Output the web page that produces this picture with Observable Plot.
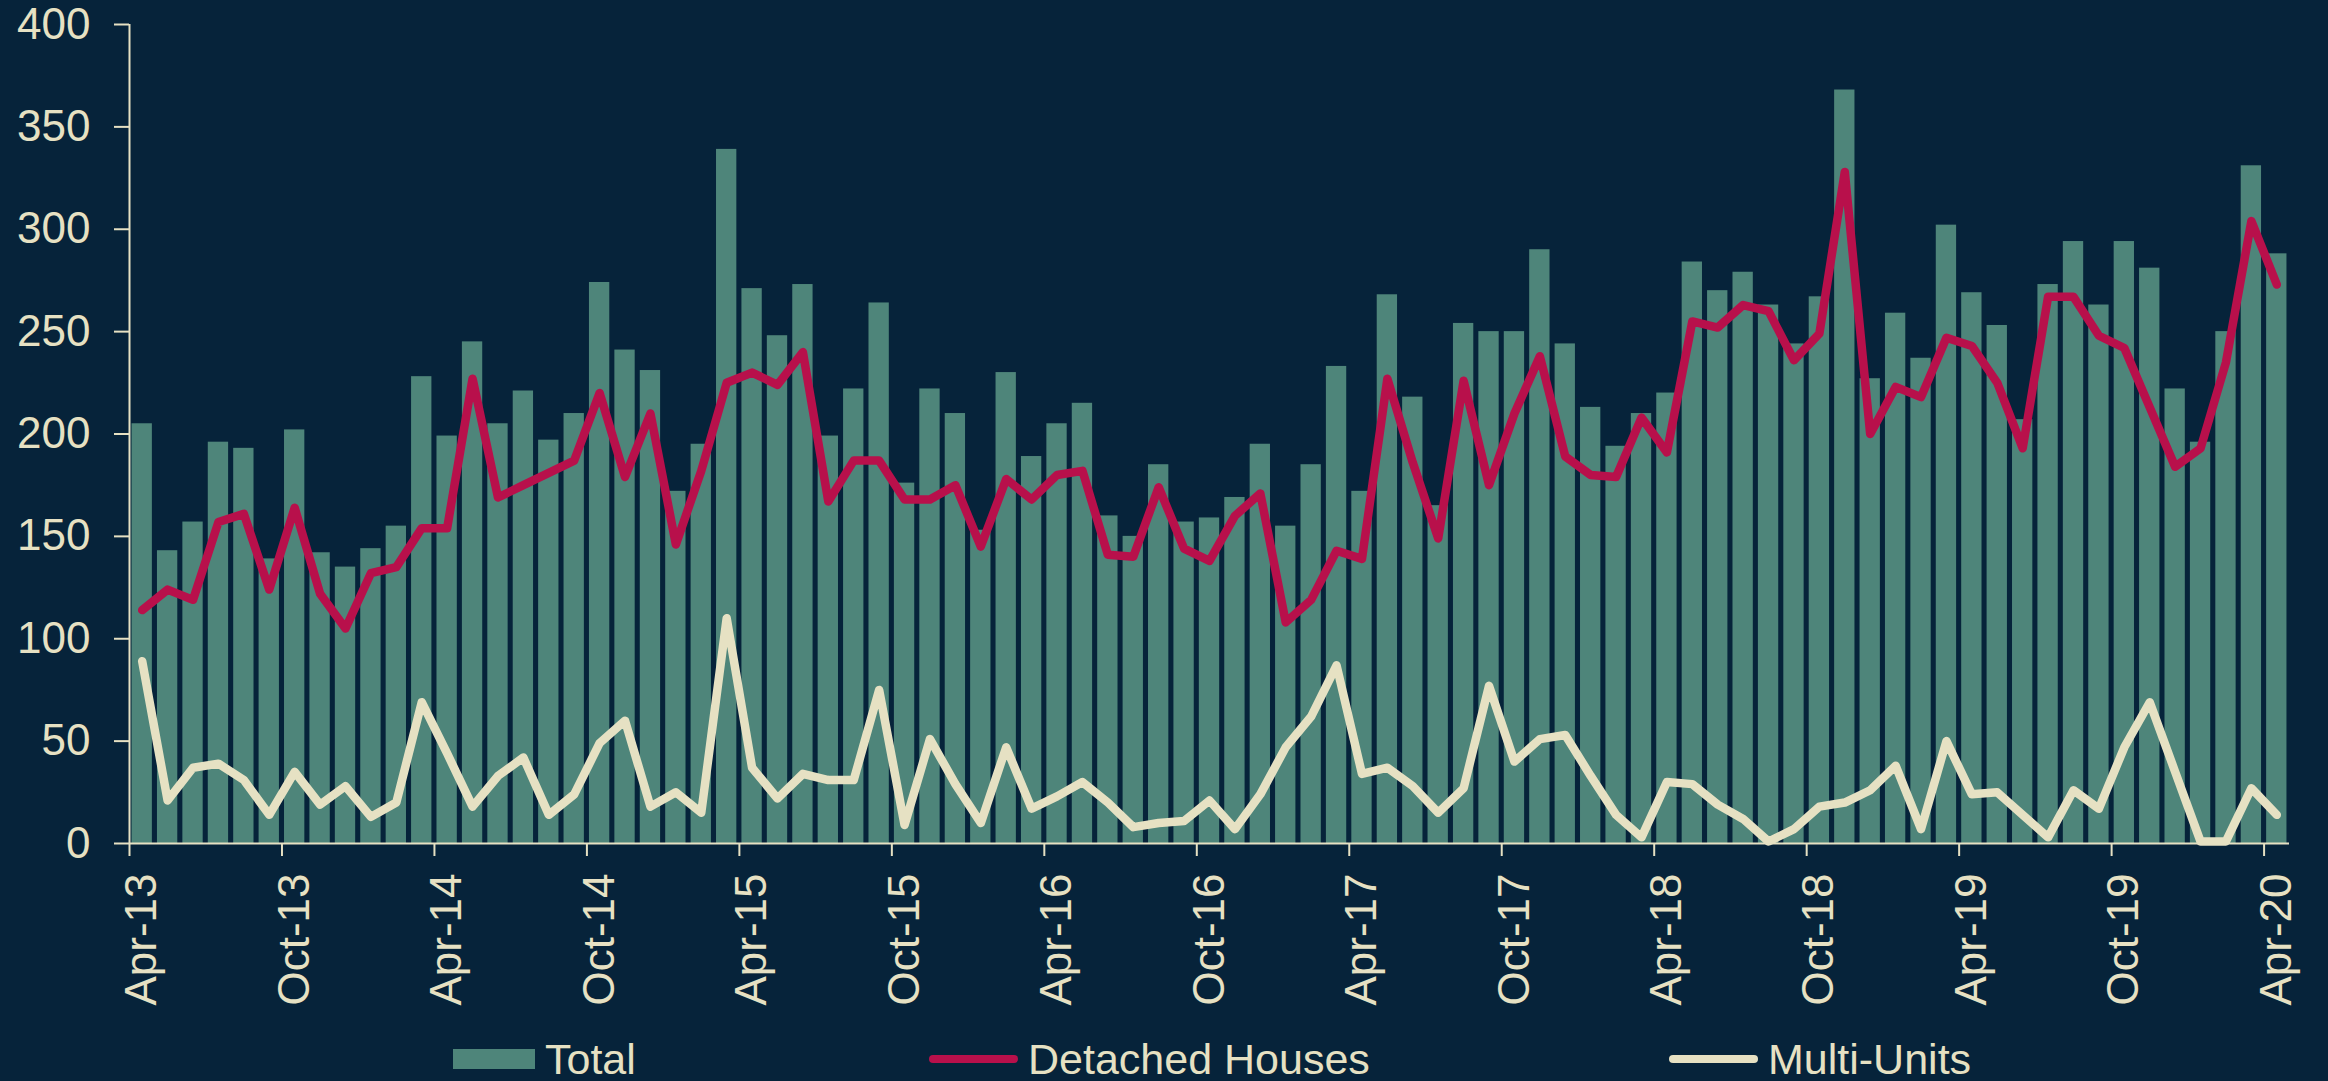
<!DOCTYPE html>
<html>
<head>
<meta charset="utf-8">
<script src="https://cdn.jsdelivr.net/npm/d3@7"></script>
<script src="https://cdn.jsdelivr.net/npm/@observablehq/plot@0.6"></script>
<style>
  html, body { margin: 0; padding: 0; background: #06233A; }
  body { width: 2328px; height: 1081px; overflow: hidden; font-family: "Liberation Sans", Arial, sans-serif; color: #E6E1C3; }
  #legend { position: relative; height: 51px; }
  .item { position: absolute; top: 0; height: 58px; display: flex; align-items: center; font-size: 43px; white-space: nowrap; }
  .sw-bar { width: 82px; height: 20px; background: #4E857A; margin-right: 10px; }
  .sw-line { width: 89px; height: 8px; border-radius: 4px; margin-right: 10px; }
</style>
</head>
<body>
<div id="chart"></div>
<div id="legend"></div>
<script>
const months = ["Apr-13","May-13","Jun-13","Jul-13","Aug-13","Sep-13","Oct-13","Nov-13","Dec-13","Jan-14","Feb-14","Mar-14",
  "Apr-14","May-14","Jun-14","Jul-14","Aug-14","Sep-14","Oct-14","Nov-14","Dec-14","Jan-15","Feb-15","Mar-15",
  "Apr-15","May-15","Jun-15","Jul-15","Aug-15","Sep-15","Oct-15","Nov-15","Dec-15","Jan-16","Feb-16","Mar-16",
  "Apr-16","May-16","Jun-16","Jul-16","Aug-16","Sep-16","Oct-16","Nov-16","Dec-16","Jan-17","Feb-17","Mar-17",
  "Apr-17","May-17","Jun-17","Jul-17","Aug-17","Sep-17","Oct-17","Nov-17","Dec-17","Jan-18","Feb-18","Mar-18",
  "Apr-18","May-18","Jun-18","Jul-18","Aug-18","Sep-18","Oct-18","Nov-18","Dec-18","Jan-19","Feb-19","Mar-19",
  "Apr-19","May-19","Jun-19","Jul-19","Aug-19","Sep-19","Oct-19","Nov-19","Dec-19","Jan-20","Feb-20","Mar-20",
  "Apr-20"];

const total = [205,143,157,196,193,139,202,142,135,144,155,228,
  199,245,205,221,197,210,274,241,231,172,195,339,
  271,248,273,199,222,264,176,222,210,153,230,189,
  205,215,160,150,185,157,159,169,195,155,185,233,
  172,268,218,165,254,250,250,290,244,213,194,210,
  220,284,270,279,263,244,267,368,227,259,237,302,
  269,253,207,273,294,263,294,281,222,196,250,331,
  288];

const detached = [114,124,119,157,161,124,164,122,105,132,135,154,
  154,227,169,175,181,187,220,179,210,146,182,225,
  230,224,240,167,187,187,168,168,175,145,178,168,
  180,182,141,140,174,144,138,160,171,108,119,143,
  139,227,186,149,226,175,210,238,189,180,179,208,
  191,255,252,263,260,236,249,328,200,223,218,247,
  243,225,193,267,267,248,242,213,184,193,235,304,
  273];

const multi = [89,21,37,39,31,14,35,19,28,13,20,69,
  44,18,33,42,14,24,49,60,18,25,15,110,
  37,22,34,31,31,75,9,51,29,10,47,17,
  23,30,20,8,10,11,21,7,24,47,62,87,
  34,37,28,15,27,77,40,51,53,33,14,3,
  30,29,19,12,1,7,18,20,26,38,7,50,
  24,25,14,3,26,17,47,69,35,1,1,27,
  14];

const tickLabels = ["Apr-13","Oct-13","Apr-14","Oct-14","Apr-15","Oct-15","Apr-16","Oct-16",
  "Apr-17","Oct-17","Apr-18","Oct-18","Apr-19","Oct-19","Apr-20"];
const yTicks = [0, 50, 100, 150, 200, 250, 300, 350, 400];

const BG = "#06233A", BAR = "#4E857A", RED = "#B8104B", CREAM = "#E6E1C3";

const data = months.map((m, i) => ({i, m, total: total[i], detached: detached[i], multi: multi[i]}));
const tickIdx = tickLabels.map(t => months.indexOf(t));

const chart = Plot.plot({
  width: 2328,
  height: 1030,
  marginLeft: 129,
  marginRight: 39,
  marginTop: 24,
  marginBottom: 187,
  style: {background: BG, color: CREAM, fontFamily: "Liberation Sans, Arial, sans-serif", fontSize: "44px"},
  x: {type: "linear", domain: [0, months.length], axis: null},
  y: {domain: [0, 400], axis: null},
  marks: [
    Plot.rectY(data, {x1: d => d.i + 0.1, x2: d => d.i + 0.9, y: "total", fill: BAR}),
    Plot.line(data, {x: d => d.i + 0.5, y: "detached", stroke: RED, strokeWidth: 8.5, strokeLinejoin: "round", strokeLinecap: "round"}),
    Plot.line(data, {x: d => d.i + 0.5, y: "multi", stroke: CREAM, strokeWidth: 8.5, strokeLinejoin: "round", strokeLinecap: "round"}),
    Plot.ruleX([0], {stroke: CREAM, strokeWidth: 2}),
    Plot.ruleY([0], {stroke: CREAM, strokeWidth: 2}),
    Plot.axisY({ticks: yTicks, tickSize: 15, tickPadding: 24, strokeWidth: 2, stroke: CREAM, fill: CREAM}),
    Plot.axisX({ticks: tickIdx, tickSize: 13, tickFormat: () => "", strokeWidth: 2, stroke: CREAM}),
    Plot.axisX({ticks: tickIdx.map(i => i + 0.5), tickSize: 0, tickPadding: 30, tickRotate: -90, fill: CREAM,
      letterSpacing: "1.5px", tickFormat: v => months[Math.round(v - 0.5)]})
  ]
});
document.getElementById("chart").appendChild(chart);

const legendItems = [
  {label: "Total", kind: "bar", color: BAR, left: 453},
  {label: "Detached Houses", kind: "line", color: RED, left: 929},
  {label: "Multi-Units", kind: "line", color: CREAM, left: 1669}
];
const legend = document.getElementById("legend");
for (const it of legendItems) {
  const div = document.createElement("div");
  div.className = "item";
  div.style.left = it.left + "px";
  const sw = document.createElement("span");
  sw.className = it.kind === "bar" ? "sw-bar" : "sw-line";
  sw.style.background = it.color;
  const tx = document.createElement("span");
  tx.textContent = it.label;
  div.appendChild(sw);
  div.appendChild(tx);
  legend.appendChild(div);
}
</script>
</body>
</html>
